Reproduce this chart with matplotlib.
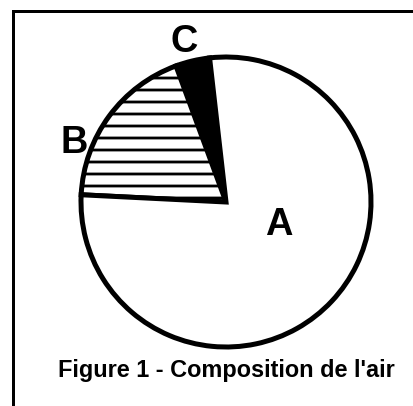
"""Pie chart: composition of the air (figure 1)."""

import matplotlib

matplotlib.use("Agg")
import matplotlib.pyplot as plt

# slices, counter-clockwise from the top
LABELS = ["C", "B", "A"]
SHARES = [3.8, 18.6, 77.6]
FILLS = ["black", "white", "white"]
HATCHES = [None, "-", None]
TITLE = "Figure 1 - Composition de l'air"

W, H, DPI = 413, 406, 72

plt.rcParams["font.family"] = ["Liberation Sans", "DejaVu Sans"]
plt.rcParams["hatch.linewidth"] = 2.8
plt.rcParams["hatch.color"] = "black"

fig = plt.figure(figsize=(W / DPI, H / DPI), dpi=DPI)
ax = fig.add_axes([0, 0, 1, 1])

# frame: only top and left edges show in the crop
ax.plot([12.5, W + 5], [H - 10.5, H - 10.5], color="black", lw=3, solid_capstyle="projecting")
ax.plot([12.5, 12.5], [H - 10.5, -5], color="black", lw=3, solid_capstyle="projecting")

wedges, _ = ax.pie(
    SHARES,
    colors=FILLS,
    startangle=96.5,
    counterclock=True,
    center=(226, H - 202),
    radius=145,
    frame=True,
    wedgeprops=dict(edgecolor="black", linewidth=5),
)
for wedge, hatch in zip(wedges, HATCHES):
    if hatch:
        wedge.set_hatch(hatch)

ax.set_xlim(0, W)
ax.set_ylim(0, H)
ax.set_aspect("equal")
ax.axis("off")

label_pos = {"C": (184, H - 42), "B": (74, H - 143), "A": (279, H - 225)}
for lab in LABELS:
    x, y = label_pos[lab]
    ax.text(x, y, lab, fontsize=38, fontweight="bold", ha="center", va="center")

ax.text(226, H - 377, TITLE, fontsize=23.5, fontweight="bold", ha="center", va="baseline")

fig.savefig("out.png", dpi=DPI)
